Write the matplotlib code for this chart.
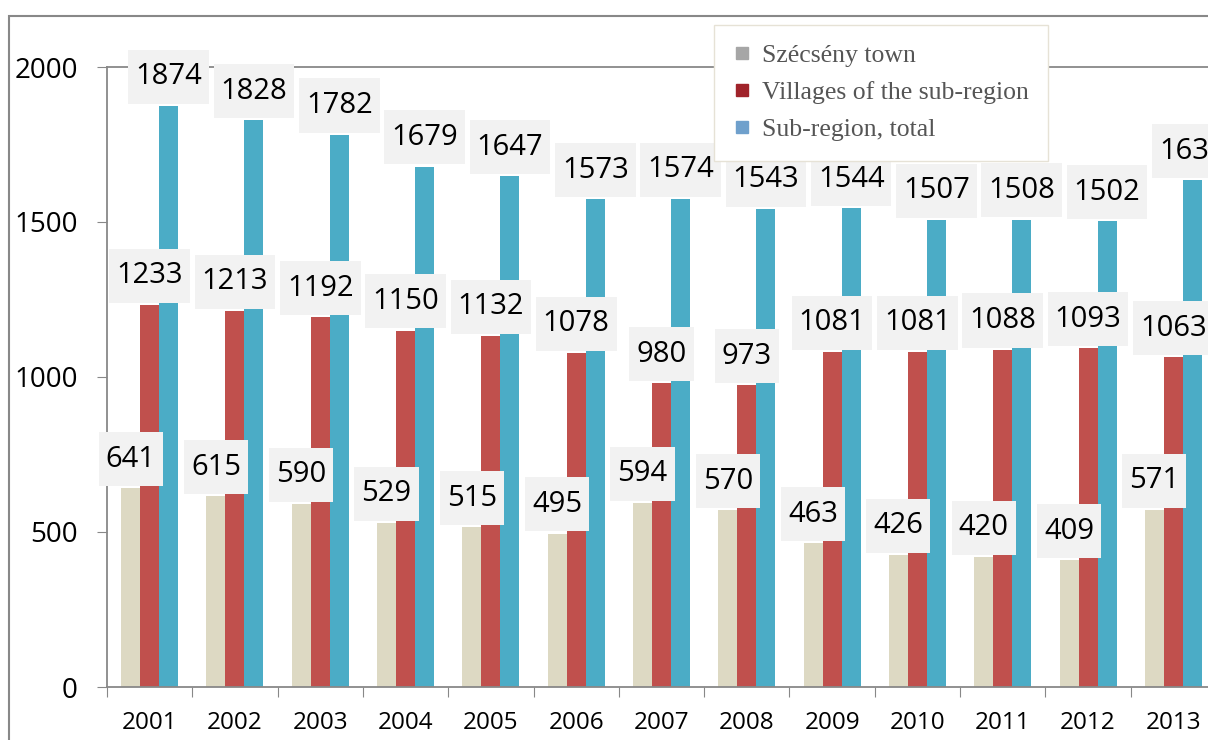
import matplotlib.pyplot as plt
import matplotlib.patches as patches
from matplotlib.lines import Line2D
import numpy as np

# data
years = ["2001", "2002", "2003", "2004", "2005", "2006", "2007",
         "2008", "2009", "2010", "2011", "2012", "2013"]
town = [641, 615, 590, 529, 515, 495, 594, 570, 463, 426, 420, 409, 571]
villages = [1233, 1213, 1192, 1150, 1132, 1078, 980, 973, 1081, 1081, 1088, 1093, 1063]
total = [1874, 1828, 1782, 1679, 1647, 1573, 1574, 1543, 1544, 1507, 1508, 1502, 1634]

series_names = ["Szécsény town", "Villages of the sub-region", "Sub-region, total"]
bar_colors = ["#ddd9c3", "#c0504d", "#4bacc6"]
legend_colors = ["#a6a6a6", "#a0232a", "#6fa0cc"]

plt.rcParams['font.family'] = ['Open Sans', 'DejaVu Sans']

fig = plt.figure(figsize=(12.08, 7.40), dpi=100)
ax = fig.add_axes([107/1208, 1 - 687/740, 1109/1208, 620/740])

x = np.arange(len(years))
w = 0.223
for k, vals in enumerate([town, villages, total]):
    ax.bar(x + (k - 1) * w, vals, width=w, color=bar_colors[k], zorder=2)

# data labels with grey boxes
for k, vals in enumerate([town, villages, total]):
    for i, v in enumerate(vals):
        t = ax.annotate(str(v), xy=(x[i] + (k - 1) * w, v), xytext=(0, 21),
                        textcoords="offset points", ha="center", va="center",
                        fontsize=21, color="black", zorder=5, annotation_clip=False,
                        bbox=dict(boxstyle="square,pad=0.24", facecolor="#f2f2f2",
                                  edgecolor="none"))
        t.get_bbox_patch().set_mutation_aspect(1.8)

ax.set_xlim(-0.5, 12.5)
ax.set_ylim(0, 2000)
ax.set_yticks([0, 500, 1000, 1500, 2000])
ax.tick_params(axis="y", labelsize=20, length=7, color="#888888", pad=14)

# boundary ticks on x, labels in the middle
ax.set_xticks(np.arange(-0.5, 13, 1))
ax.set_xticklabels([])
ax.set_xticks(x, minor=True)
ax.set_xticklabels(years, minor=True, fontsize=17.5)
ax.tick_params(axis="x", which="major", length=7, color="#888888")
ax.tick_params(axis="x", which="minor", length=0, pad=17)

ax.spines["right"].set_visible(False)
for s in ["left", "bottom", "top"]:
    ax.spines[s].set_color("#888888")
    ax.spines[s].set_linewidth(1.3)

# outer chart border
fig.patches.append(patches.Rectangle((9/1208, -0.1), 1.2, 1.1 - 16/740,
                                     transform=fig.transFigure, fill=False,
                                     edgecolor="#888888", linewidth=1.5))

handles = [Line2D([], [], marker="s", linestyle="", color=c, markersize=8)
           for c in legend_colors]
leg = fig.legend(handles, series_names, loc="upper left",
                 bbox_to_anchor=(714/1208, 1 - 25/740), borderaxespad=0,
                 prop={"family": "Liberation Serif", "size": 18.5},
                 handlelength=0.7, handletextpad=0.4, labelspacing=0.55,
                 borderpad=0.75, fancybox=False, framealpha=1,
                 edgecolor="#e6e2d6", facecolor="white")
for t in leg.get_texts():
    t.set_color("#555555")
leg.set_zorder(10)

plt.savefig("out.png", dpi=100)
